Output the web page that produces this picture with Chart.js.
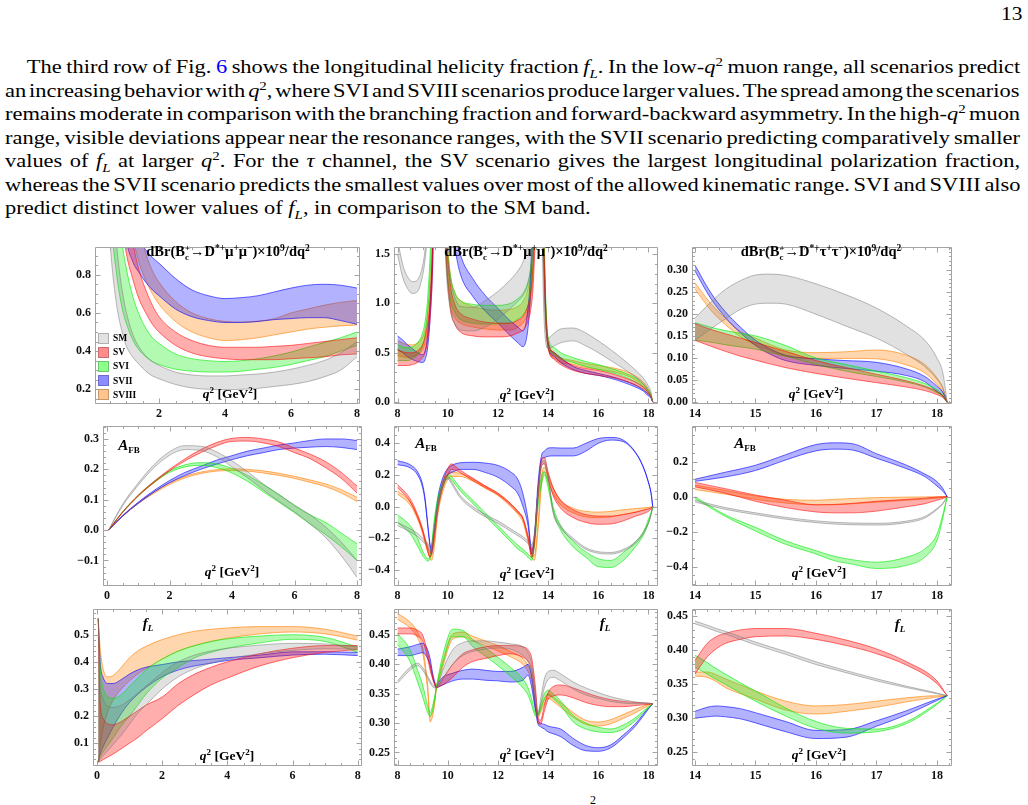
<!DOCTYPE html>
<html><head><meta charset="utf-8">
<script src="https://cdn.jsdelivr.net/npm/chart.js@4.4.1/dist/chart.umd.min.js"></script>
<style>
html,body{margin:0;padding:0;background:#fff;}
body{width:1028px;height:805px;position:relative;overflow:hidden;font-family:"Liberation Serif","DejaVu Serif",serif;color:#000;}
#pg{position:absolute;left:1001px;top:3px;font-size:19.5px;transform:scaleX(1.1);transform-origin:0 0;}
#txt{position:absolute;left:5px;top:55px;width:883px;font-size:19.5px;line-height:23.5px;transform:scaleX(1.15);transform-origin:0 0;}
#txt div{white-space:nowrap;}
#txt div.first{padding-left:19px;}
#txt sup,#txt sub{font-size:13px;line-height:0;}
canvas{position:absolute;}
.lab{position:absolute;font-weight:bold;white-space:nowrap;transform:translate(-50%,-50%);font-size:13.5px;line-height:1;}
.lab sup,.lab sub{font-size:9px;line-height:0;}
.ttl{font-size:14.5px;}
.ttl sup{font-size:9.5px;}
.ss{display:inline-block;vertical-align:middle;line-height:8.5px;font-size:9px;text-align:left;}
.big{font-size:15px;font-style:italic;}
#legend{position:absolute;left:98px;top:331px;font-size:9.5px;font-weight:bold;}
#legend div{height:14.2px;display:flex;align-items:center;}
#legend span.sw{display:inline-block;width:11px;height:11px;margin-right:4px;border:1px solid rgba(0,0,0,0.22);box-sizing:border-box;}
</style></head>
<body>
<div id="pg">13</div>
<div id="txt">
<div class="first"><span>The third row of Fig. <span style="color:#0000ff">6</span> shows the longitudinal helicity fraction <i>f<sub>L</sub></i>. In the low-<i>q</i><sup>2</sup> muon range, all scenarios predict</span></div>
<div><span>an increasing behavior with <i>q</i><sup>2</sup>, where SVI and SVIII scenarios produce larger values. The spread among the scenarios</span></div>
<div><span>remains moderate in comparison with the branching fraction and forward-backward asymmetry. In the high-<i>q</i><sup>2</sup> muon</span></div>
<div><span>range, visible deviations appear near the resonance ranges, with the SVII scenario predicting comparatively smaller</span></div>
<div><span>values of <i>f<sub>L</sub></i> at larger <i>q</i><sup>2</sup>. For the <i>τ</i> channel, the SV scenario gives the largest longitudinal polarization fraction,</span></div>
<div><span>whereas the SVII scenario predicts the smallest values over most of the allowed kinematic range. SVI and SVIII also</span></div>
<div class="last"><span>predict distinct lower values of <i>f<sub>L</sub></i>, in comparison to the SM band.</span></div>
</div>
<div style="position:absolute;left:590px;top:793px;font-size:12px;">2</div>

<script>
// justify each paragraph line to the reference's line width
(function(){
  const S = 1.15;
  document.querySelectorAll('#txt > div').forEach(d => {
    if (d.classList.contains('last')) return;
    const sp = d.firstElementChild;
    sp.style.display = 'inline-block';
    const target = (d.classList.contains('first') ? 993 : 1015) / S;
    const w = sp.offsetWidth;
    const n = sp.textContent.split(' ').length - 1;
    if (n > 0) sp.style.wordSpacing = ((target - w) / n) + 'px';
  });
})();
</script>

<script>
// ---------------- DATA ----------------
const SERIES = ['SM','SV','SVI','SVII','SVIII'];

// Panel 1: dBr mu, low q^2
const Q1 = [0.5,0.6,0.7,0.8,0.9,1.0,1.2,1.4,1.6,1.8,2,2.5,3,3.5,4,4.5,5,5.5,6,6.5,7,7.5,8];
const P1_SM_HI = [1.5,1.2,0.98,0.82,0.70,0.61,0.49,0.42,0.375,0.345,0.325,0.29,0.275,0.27,0.27,0.275,0.28,0.29,0.305,0.325,0.35,0.39,0.45];
const P1_SM_LO = [1.0,0.8,0.66,0.56,0.49,0.43,0.37,0.33,0.295,0.27,0.255,0.225,0.207,0.2,0.198,0.2,0.205,0.215,0.225,0.24,0.265,0.3,0.37];
const P1_SV_HI = [2.4,2.0,1.7,1.5,1.3,1.15,0.97,0.82,0.72,0.64,0.58,0.5,0.455,0.43,0.42,0.42,0.42,0.425,0.43,0.44,0.45,0.46,0.47];
const P1_SV_LO = [1.9,1.6,1.4,1.2,1.05,0.92,0.78,0.67,0.6,0.54,0.5,0.43,0.39,0.37,0.36,0.355,0.355,0.355,0.36,0.365,0.37,0.38,0.385];
const P1_SVI_HI = [1.8,1.5,1.25,1.07,0.94,0.84,0.69,0.59,0.52,0.47,0.44,0.385,0.36,0.35,0.345,0.35,0.36,0.375,0.395,0.42,0.445,0.47,0.5];
const P1_SVI_LO = [1.25,0.98,0.82,0.7,0.61,0.55,0.46,0.405,0.37,0.345,0.33,0.305,0.295,0.29,0.29,0.295,0.305,0.315,0.33,0.35,0.37,0.4,0.43];
const P1_SVII_HI = [3.0,2.6,2.2,1.9,1.6,1.35,1.1,0.98,0.93,0.89,0.86,0.78,0.72,0.69,0.675,0.68,0.69,0.71,0.73,0.745,0.75,0.745,0.73];
const P1_SVII_LO = [2.2,1.9,1.6,1.4,1.2,1.0,0.87,0.81,0.76,0.72,0.69,0.62,0.58,0.56,0.55,0.55,0.555,0.565,0.57,0.575,0.575,0.56,0.54];
const P1_SVIII_HI = [3.0,2.6,2.2,1.9,1.65,1.45,1.2,1.03,0.91,0.82,0.76,0.66,0.6,0.57,0.555,0.552,0.557,0.57,0.6,0.62,0.64,0.655,0.665];
const P1_SVIII_LO = [2.4,2.0,1.7,1.5,1.35,1.2,1.0,0.86,0.77,0.7,0.645,0.555,0.5,0.47,0.455,0.46,0.47,0.485,0.5,0.515,0.525,0.532,0.537];

// Panel 2: dBr mu, high q^2 (three segments between resonances)
const Q2A = [8.0,8.2,8.4,8.6,8.8,9.0,9.1,9.2,9.3,9.4,9.45];
const P2A_SM_HI = [1.65,1.40,1.27,1.22,1.24,1.38,1.55,1.85,2.3,3,3.5];
const P2A_SM_LO = [1.50,1.27,1.15,1.10,1.12,1.28,1.45,1.7,2.1,2.8,3.3];
const P2A_SV_HI = [0.53,0.51,0.5,0.5,0.52,0.58,0.66,0.8,1.05,1.6,2.2];
const P2A_SV_LO = [0.37,0.37,0.37,0.38,0.4,0.45,0.5,0.62,0.85,1.35,1.9];
const P2A_SVI_HI = [0.58,0.56,0.55,0.56,0.6,0.7,0.82,1.05,1.5,2.2,3];
const P2A_SVI_LO = [0.42,0.42,0.42,0.44,0.48,0.57,0.68,0.9,1.3,2.0,2.8];
const P2A_SVII_HI = [0.67,0.63,0.58,0.54,0.5,0.48,0.52,0.68,1.0,1.6,2.2];
const P2A_SVII_LO = [0.53,0.5,0.46,0.43,0.41,0.40,0.43,0.55,0.85,1.4,2.0];
const P2A_SVIII_HI = [0.62,0.6,0.58,0.58,0.6,0.66,0.74,0.9,1.2,1.8,2.5];
const P2A_SVIII_LO = [0.47,0.46,0.45,0.46,0.48,0.53,0.6,0.72,1.0,1.55,2.2];
const Q2B = [9.75,9.85,9.95,10.1,10.3,10.5,11.0,11.5,12.0,12.5,12.8,13.0,13.2,13.3,13.4,13.5];
const P2B_SM_HI = [3,2.2,1.6,1.25,1.05,0.97,0.96,1.03,1.12,1.24,1.33,1.42,1.6,1.8,2.2,3];
const P2B_SM_LO = [3,1.9,1.3,0.95,0.78,0.73,0.72,0.76,0.84,0.95,1.02,1.08,1.2,1.35,1.6,2.2];
const P2B_SV_HI = [3,2.4,1.7,1.2,0.98,0.9,0.84,0.81,0.8,0.8,0.83,0.87,0.98,1.1,1.4,2.0];
const P2B_SV_LO = [3,2.0,1.4,0.95,0.78,0.71,0.67,0.66,0.66,0.67,0.7,0.73,0.82,0.92,1.15,1.7];
const P2B_SVI_HI = [3,2.3,1.7,1.3,1.1,1.03,0.99,0.98,0.98,1.0,1.05,1.1,1.22,1.35,1.7,2.4];
const P2B_SVI_LO = [3,2.0,1.4,1.05,0.9,0.84,0.8,0.79,0.79,0.8,0.84,0.88,0.98,1.1,1.4,2.0];
const P2B_SVII_HI = [4,3.5,3,2.4,1.75,1.5,1.25,1.08,0.95,0.82,0.76,0.72,0.95,1.3,2.0,3];
const P2B_SVII_LO = [4,3.2,2.6,2.0,1.55,1.3,1.07,0.92,0.8,0.67,0.6,0.56,0.75,1.1,1.7,2.6];
const P2B_SVIII_HI = [3,2.4,1.8,1.3,1.1,1.03,0.97,0.94,0.93,0.94,0.97,1.02,1.15,1.3,1.6,2.3];
const P2B_SVIII_LO = [3,2.1,1.5,1.0,0.85,0.8,0.76,0.74,0.73,0.73,0.76,0.8,0.9,1.02,1.3,1.9];
const Q2C = [13.7,13.8,13.9,14.0,14.25,14.5,15.0,15.5,16.0,16.5,17.0,17.5,17.8,18.0,18.1,18.17];
const P2C_SM_HI = [3,1.5,0.8,0.65,0.7,0.74,0.75,0.7,0.62,0.53,0.43,0.32,0.24,0.16,0.1,0.0];
const P2C_SM_LO = [3,1.2,0.62,0.54,0.57,0.6,0.62,0.57,0.5,0.42,0.34,0.25,0.18,0.11,0.06,0.0];
const P2C_SV_HI = [3,2.0,1.0,0.62,0.5,0.44,0.37,0.34,0.32,0.29,0.25,0.2,0.15,0.1,0.06,0.0];
const P2C_SV_LO = [3,1.7,0.85,0.55,0.43,0.38,0.32,0.29,0.27,0.25,0.22,0.17,0.13,0.08,0.05,0.0];
const P2C_SVI_HI = [3,2.2,1.1,0.66,0.55,0.5,0.45,0.41,0.38,0.34,0.3,0.24,0.18,0.12,0.07,0.0];
const P2C_SVI_LO = [3,1.9,0.95,0.58,0.48,0.44,0.4,0.36,0.33,0.3,0.26,0.2,0.15,0.09,0.05,0.0];
const P2C_SVII_HI = [3,2.0,1.0,0.6,0.5,0.45,0.36,0.32,0.29,0.26,0.22,0.17,0.12,0.08,0.05,0.0];
const P2C_SVII_LO = [3,1.8,0.9,0.56,0.46,0.4,0.33,0.29,0.27,0.24,0.2,0.15,0.11,0.06,0.04,0.0];
const P2C_SVIII_HI = [3,2.1,1.05,0.62,0.5,0.45,0.42,0.39,0.37,0.35,0.32,0.26,0.2,0.13,0.08,0.0];
const P2C_SVIII_LO = [3,1.8,0.9,0.55,0.44,0.4,0.38,0.35,0.33,0.31,0.28,0.22,0.16,0.1,0.06,0.0];

// Panel 3: dBr tau
const Q3 = [14.0,14.25,14.5,14.75,15.0,15.25,15.5,16.0,16.5,17.0,17.5,17.8,18.0,18.1,18.17];
const P3_SM_HI = [0.19,0.225,0.255,0.275,0.288,0.29,0.287,0.268,0.243,0.213,0.172,0.14,0.1,0.065,0.0];
const P3_SM_LO = [0.14,0.165,0.188,0.21,0.222,0.224,0.222,0.199,0.172,0.145,0.108,0.08,0.052,0.03,0.0];
const P3_SV_HI = [0.178,0.165,0.155,0.145,0.135,0.125,0.115,0.094,0.078,0.063,0.048,0.036,0.024,0.014,0.0];
const P3_SV_LO = [0.14,0.127,0.115,0.104,0.095,0.086,0.078,0.065,0.054,0.044,0.034,0.026,0.017,0.01,0.0];
const P3_SVI_HI = [0.18,0.17,0.162,0.156,0.15,0.14,0.128,0.1,0.085,0.07,0.055,0.042,0.028,0.016,0.0];
const P3_SVI_LO = [0.14,0.136,0.13,0.125,0.12,0.112,0.104,0.085,0.07,0.058,0.045,0.034,0.021,0.012,0.0];
const P3_SVII_HI = [0.31,0.25,0.205,0.17,0.14,0.12,0.106,0.098,0.094,0.09,0.075,0.058,0.036,0.022,0.0];
const P3_SVII_LO = [0.297,0.237,0.192,0.157,0.128,0.108,0.094,0.083,0.076,0.07,0.06,0.046,0.024,0.014,0.0];
const P3_SVIII_HI = [0.27,0.225,0.19,0.16,0.145,0.13,0.118,0.112,0.114,0.118,0.106,0.085,0.055,0.032,0.0];
const P3_SVIII_LO = [0.256,0.21,0.176,0.148,0.13,0.116,0.104,0.099,0.099,0.098,0.084,0.066,0.04,0.022,0.0];

// Panel 4: A_FB mu, low q^2
const Q4 = [0.05,0.5,1,1.5,2,2.5,3,3.5,4,4.5,5,5.5,6,6.5,7,7.5,8];
const P4_SM_HI = [0,0.085,0.155,0.215,0.258,0.278,0.276,0.258,0.228,0.192,0.152,0.116,0.083,0.05,0.01,-0.04,-0.1];
const P4_SM_LO = [0,0.08,0.148,0.205,0.246,0.265,0.262,0.242,0.208,0.172,0.132,0.095,0.06,0.02,-0.025,-0.085,-0.155];
const P4_SV_HI = [0,0.06,0.115,0.16,0.2,0.235,0.265,0.288,0.302,0.305,0.3,0.29,0.27,0.25,0.225,0.19,0.145];
const P4_SV_LO = [0,0.058,0.112,0.156,0.195,0.228,0.255,0.277,0.292,0.293,0.287,0.275,0.255,0.235,0.205,0.17,0.122];
const P4_SVI_HI = [0,0.06,0.115,0.16,0.195,0.215,0.222,0.218,0.203,0.18,0.15,0.118,0.08,0.05,0.025,-0.01,-0.045];
const P4_SVI_LO = [0,0.058,0.112,0.156,0.19,0.208,0.213,0.206,0.188,0.16,0.126,0.092,0.057,0.02,-0.015,-0.055,-0.1];
const P4_SVII_HI = [0,0.048,0.092,0.13,0.163,0.19,0.21,0.23,0.245,0.26,0.27,0.28,0.287,0.295,0.3,0.3,0.295];
const P4_SVII_LO = [0,0.046,0.088,0.125,0.156,0.18,0.2,0.217,0.232,0.245,0.255,0.265,0.27,0.273,0.275,0.272,0.265];
const P4_SVIII_HI = [0,0.047,0.09,0.125,0.155,0.177,0.191,0.199,0.202,0.2,0.195,0.187,0.177,0.165,0.152,0.133,0.108];
const P4_SVIII_LO = [0,0.045,0.087,0.121,0.15,0.172,0.186,0.194,0.196,0.194,0.188,0.18,0.17,0.157,0.143,0.122,0.094];

// Panel 5: A_FB mu, high q^2
const Q5 = [8.0,8.5,8.8,9.0,9.1,9.2,9.3,9.35,9.45,9.6,9.8,10.0,10.15,10.3,10.5,11.0,11.5,12.0,12.5,12.8,13.0,13.2,13.35,13.45,13.6,13.75,13.85,14.0,14.2,14.5,15.0,15.5,16.0,16.5,17.0,17.5,17.8,18.0,18.1,18.17];
const P5_SM_HI = [-0.1,-0.14,-0.17,-0.2,-0.215,-0.23,-0.26,-0.25,-0.15,0.0,0.14,0.19,0.16,0.12,0.07,0.0,-0.05,-0.09,-0.14,-0.17,-0.19,-0.22,-0.24,-0.17,0.1,0.28,0.29,0.2,-0.02,-0.12,-0.2,-0.26,-0.285,-0.29,-0.27,-0.22,-0.16,-0.1,-0.05,0];
const P5_SM_LO = [-0.12,-0.16,-0.19,-0.22,-0.235,-0.25,-0.28,-0.27,-0.17,-0.02,0.12,0.175,0.145,0.105,0.055,-0.015,-0.065,-0.105,-0.155,-0.185,-0.205,-0.235,-0.255,-0.19,0.08,0.26,0.27,0.18,-0.04,-0.135,-0.212,-0.27,-0.295,-0.3,-0.28,-0.23,-0.17,-0.108,-0.055,0];
const P5_SV_HI = [0.14,0.05,-0.05,-0.14,-0.2,-0.25,-0.29,-0.27,-0.18,0.0,0.15,0.24,0.27,0.255,0.23,0.18,0.13,0.085,0.02,-0.03,-0.07,-0.18,-0.28,-0.2,0.1,0.3,0.31,0.22,0.12,0.04,-0.02,-0.05,-0.06,-0.06,-0.05,-0.035,-0.022,-0.015,-0.008,0];
const P5_SV_LO = [0.12,0.03,-0.07,-0.16,-0.22,-0.28,-0.32,-0.3,-0.22,-0.03,0.12,0.2,0.235,0.23,0.215,0.165,0.12,0.075,0.01,-0.04,-0.08,-0.2,-0.32,-0.25,0.05,0.26,0.27,0.18,0.07,-0.01,-0.07,-0.1,-0.112,-0.11,-0.09,-0.06,-0.045,-0.03,-0.016,0];
const P5_SVI_HI = [-0.05,-0.12,-0.2,-0.28,-0.31,-0.33,-0.31,-0.26,-0.1,0.05,0.15,0.2,0.19,0.16,0.12,0.04,-0.04,-0.12,-0.2,-0.245,-0.27,-0.3,-0.32,-0.22,0.05,0.2,0.22,0.15,0.0,-0.12,-0.22,-0.285,-0.33,-0.34,-0.29,-0.22,-0.16,-0.08,-0.04,0];
const P5_SVI_LO = [-0.1,-0.17,-0.25,-0.31,-0.33,-0.345,-0.33,-0.29,-0.13,0.02,0.12,0.18,0.17,0.14,0.1,0.02,-0.06,-0.14,-0.22,-0.27,-0.29,-0.32,-0.34,-0.26,0.0,0.15,0.2,0.12,-0.03,-0.15,-0.255,-0.32,-0.38,-0.385,-0.34,-0.25,-0.18,-0.1,-0.05,0];
const P5_SVII_HI = [0.29,0.265,0.22,0.14,0.05,-0.1,-0.24,-0.27,-0.15,0.05,0.18,0.24,0.26,0.27,0.277,0.28,0.275,0.26,0.22,0.17,0.08,-0.08,-0.27,-0.2,0.15,0.33,0.35,0.37,0.372,0.37,0.37,0.4,0.43,0.437,0.42,0.34,0.25,0.155,0.09,0.0];
const P5_SVII_LO = [0.265,0.245,0.2,0.12,0.03,-0.12,-0.26,-0.3,-0.18,0.02,0.15,0.2,0.215,0.225,0.235,0.235,0.215,0.185,0.13,0.08,0.0,-0.12,-0.3,-0.22,0.1,0.3,0.31,0.318,0.32,0.32,0.32,0.35,0.4,0.42,0.41,0.335,0.245,0.15,0.085,0.0];
const P5_SVIII_HI = [0.1,0.03,-0.06,-0.15,-0.21,-0.27,-0.31,-0.31,-0.24,-0.03,0.12,0.2,0.22,0.215,0.21,0.175,0.13,0.085,0.02,-0.03,-0.08,-0.2,-0.3,-0.31,-0.1,0.2,0.25,0.2,0.12,0.04,-0.01,-0.03,-0.035,-0.03,-0.02,-0.012,-0.008,-0.005,-0.003,0];
const P5_SVIII_LO = [0.08,0.01,-0.08,-0.17,-0.23,-0.29,-0.33,-0.34,-0.28,-0.06,0.09,0.17,0.19,0.19,0.19,0.16,0.115,0.07,0.0,-0.05,-0.1,-0.22,-0.32,-0.34,-0.15,0.15,0.22,0.16,0.08,0.01,-0.04,-0.065,-0.07,-0.065,-0.05,-0.035,-0.022,-0.012,-0.006,0];

// Panel 6: A_FB tau
const Q6 = [14.0,14.5,15.0,15.5,16.0,16.3,16.6,17.0,17.5,17.8,18.0,18.1,18.17];
const P6_SM_HI = [-0.02,-0.062,-0.092,-0.118,-0.138,-0.146,-0.15,-0.152,-0.139,-0.113,-0.067,-0.036,0];
const P6_SM_LO = [-0.03,-0.072,-0.102,-0.128,-0.148,-0.156,-0.16,-0.162,-0.148,-0.122,-0.074,-0.04,0];
const P6_SV_HI = [0.082,0.046,0.01,-0.02,-0.046,-0.044,-0.038,-0.026,-0.015,-0.008,-0.002,0,0];
const P6_SV_LO = [0.057,0.02,-0.026,-0.062,-0.087,-0.092,-0.092,-0.082,-0.057,-0.04,-0.02,-0.01,0];
const P6_SVI_HI = [0.0,-0.103,-0.175,-0.252,-0.308,-0.34,-0.36,-0.374,-0.345,-0.298,-0.215,-0.1,0];
const P6_SVI_LO = [-0.01,-0.112,-0.196,-0.272,-0.327,-0.365,-0.385,-0.41,-0.392,-0.345,-0.252,-0.12,0];
const P6_SVII_HI = [0.1,0.14,0.18,0.24,0.298,0.308,0.303,0.246,0.18,0.13,0.087,0.046,0];
const P6_SVII_LO = [0.088,0.113,0.15,0.21,0.262,0.272,0.267,0.22,0.16,0.115,0.062,0.031,0];
const P6_SVIII_HI = [0.067,0.036,0.005,-0.015,-0.02,-0.015,-0.01,-0.005,-0.002,-0.001,0,0,0];
const P6_SVIII_LO = [0.041,0.015,-0.015,-0.036,-0.046,-0.046,-0.04,-0.031,-0.02,-0.013,-0.008,-0.004,0];

// Panel 7: f_L mu, low q^2
const Q7 = [0.04,0.1,0.2,0.35,0.5,0.75,1,1.25,1.5,2,2.5,3,3.5,4,5,6,7,8];
const P7_SM_HI = [0.56,0.32,0.26,0.235,0.232,0.24,0.26,0.285,0.31,0.36,0.4,0.425,0.44,0.45,0.462,0.468,0.466,0.455];
const P7_SM_LO = [0.03,0.04,0.055,0.075,0.095,0.13,0.17,0.21,0.24,0.3,0.345,0.375,0.395,0.41,0.43,0.442,0.448,0.447];
const P7_SV_HI = [0.56,0.25,0.19,0.17,0.168,0.18,0.2,0.22,0.24,0.27,0.32,0.355,0.38,0.4,0.43,0.45,0.46,0.46];
const P7_SV_LO = [0.03,0.033,0.04,0.05,0.06,0.08,0.1,0.12,0.145,0.19,0.24,0.28,0.315,0.34,0.385,0.415,0.435,0.445];
const P7_SVI_HI = [0.56,0.38,0.3,0.27,0.265,0.28,0.31,0.34,0.37,0.41,0.44,0.46,0.475,0.485,0.495,0.5,0.49,0.455];
const P7_SVI_LO = [0.03,0.05,0.07,0.095,0.12,0.165,0.2,0.24,0.28,0.34,0.38,0.415,0.435,0.45,0.47,0.483,0.475,0.435];
const P7_SVII_HI = [0.56,0.4,0.34,0.32,0.32,0.335,0.355,0.37,0.38,0.39,0.4,0.405,0.41,0.415,0.425,0.437,0.437,0.435];
const P7_SVII_LO = [0.03,0.06,0.09,0.125,0.16,0.21,0.25,0.28,0.305,0.345,0.37,0.385,0.395,0.405,0.415,0.425,0.428,0.423];
const P7_SVIII_HI = [0.56,0.45,0.37,0.345,0.35,0.38,0.415,0.44,0.457,0.482,0.5,0.513,0.52,0.525,0.53,0.53,0.52,0.495];
const P7_SVIII_LO = [0.03,0.09,0.16,0.22,0.26,0.3,0.33,0.355,0.375,0.41,0.44,0.46,0.475,0.487,0.503,0.51,0.503,0.48];

// Panel 8: f_L mu, high q^2
const Q8 = [8.0,8.5,8.8,9.0,9.2,9.3,9.4,9.5,9.55,9.65,9.8,10.2,10.6,11.0,11.5,12.0,12.5,13.0,13.2,13.35,13.5,13.6,13.7,13.85,14.0,14.2,14.5,15.0,15.5,16.0,16.5,17.0,17.5,18.0,18.17];
const P8_SM_HI = [0.372,0.395,0.402,0.395,0.38,0.372,0.365,0.362,0.362,0.37,0.39,0.425,0.437,0.44,0.44,0.438,0.435,0.43,0.42,0.4,0.35,0.318,0.34,0.375,0.388,0.39,0.384,0.37,0.36,0.352,0.345,0.34,0.336,0.334,0.333];
const P8_SM_LO = [0.368,0.39,0.398,0.39,0.376,0.368,0.362,0.36,0.36,0.363,0.375,0.4,0.415,0.422,0.426,0.428,0.426,0.415,0.405,0.385,0.335,0.312,0.33,0.36,0.374,0.378,0.372,0.358,0.348,0.342,0.337,0.334,0.333,0.333,0.333];
const P8_SV_HI = [0.462,0.462,0.458,0.45,0.42,0.4,0.38,0.365,0.362,0.366,0.375,0.4,0.418,0.425,0.43,0.432,0.432,0.43,0.425,0.41,0.36,0.31,0.305,0.33,0.352,0.362,0.365,0.36,0.352,0.345,0.34,0.337,0.335,0.334,0.333];
const P8_SV_LO = [0.452,0.452,0.448,0.44,0.41,0.39,0.375,0.363,0.36,0.362,0.365,0.378,0.395,0.405,0.41,0.415,0.418,0.412,0.405,0.39,0.345,0.3,0.298,0.32,0.34,0.346,0.348,0.343,0.335,0.33,0.328,0.328,0.33,0.332,0.333];
const P8_SVI_HI = [0.453,0.425,0.39,0.365,0.33,0.318,0.33,0.35,0.362,0.385,0.415,0.46,0.458,0.442,0.428,0.412,0.395,0.375,0.36,0.34,0.318,0.318,0.33,0.35,0.356,0.35,0.338,0.313,0.3,0.293,0.29,0.297,0.31,0.328,0.333];
const P8_SVI_LO = [0.434,0.405,0.37,0.345,0.318,0.312,0.322,0.345,0.36,0.375,0.4,0.447,0.447,0.43,0.414,0.398,0.38,0.36,0.348,0.33,0.312,0.313,0.322,0.34,0.348,0.342,0.33,0.302,0.29,0.285,0.284,0.29,0.305,0.326,0.333];
const P8_SVII_HI = [0.426,0.43,0.434,0.436,0.425,0.41,0.385,0.368,0.362,0.37,0.378,0.385,0.39,0.392,0.39,0.388,0.388,0.395,0.4,0.38,0.33,0.305,0.3,0.298,0.295,0.293,0.29,0.274,0.262,0.258,0.263,0.28,0.3,0.326,0.333];
const P8_SVII_LO = [0.415,0.415,0.418,0.42,0.41,0.398,0.378,0.364,0.36,0.362,0.365,0.372,0.375,0.375,0.373,0.372,0.37,0.373,0.382,0.36,0.32,0.298,0.294,0.29,0.285,0.282,0.277,0.262,0.253,0.252,0.258,0.275,0.296,0.324,0.333];
const P8_SVIII_HI = [0.487,0.472,0.455,0.43,0.365,0.31,0.32,0.345,0.362,0.38,0.405,0.452,0.455,0.448,0.44,0.432,0.422,0.41,0.398,0.38,0.335,0.315,0.325,0.342,0.35,0.345,0.335,0.318,0.305,0.302,0.306,0.315,0.324,0.332,0.333];
const P8_SVIII_LO = [0.477,0.462,0.445,0.42,0.355,0.302,0.312,0.338,0.36,0.372,0.395,0.443,0.447,0.44,0.432,0.423,0.413,0.4,0.388,0.37,0.325,0.31,0.318,0.333,0.342,0.337,0.327,0.31,0.298,0.295,0.299,0.308,0.318,0.33,0.333];

// Panel 9: f_L tau
const Q9 = [14.0,14.2,14.35,14.5,14.75,15.0,15.5,16.0,16.5,17.0,17.5,18.0,18.17];
const P9_SM_HI = [0.443,0.437,0.432,0.428,0.42,0.412,0.398,0.383,0.37,0.358,0.347,0.337,0.333];
const P9_SM_LO = [0.439,0.433,0.428,0.424,0.416,0.408,0.394,0.379,0.367,0.355,0.345,0.336,0.333];
const P9_SV_HI = [0.385,0.41,0.42,0.425,0.43,0.432,0.432,0.425,0.415,0.402,0.383,0.355,0.333];
const P9_SV_LO = [0.365,0.39,0.402,0.41,0.416,0.42,0.421,0.416,0.407,0.395,0.378,0.351,0.333];
const P9_SVI_HI = [0.393,0.382,0.373,0.365,0.352,0.34,0.315,0.295,0.285,0.284,0.295,0.322,0.333];
const P9_SVI_LO = [0.375,0.365,0.357,0.35,0.337,0.325,0.303,0.285,0.278,0.28,0.292,0.32,0.333];
const P9_SVII_HI = [0.31,0.316,0.318,0.317,0.314,0.308,0.295,0.282,0.283,0.296,0.311,0.328,0.333];
const P9_SVII_LO = [0.3,0.302,0.303,0.302,0.299,0.293,0.28,0.27,0.272,0.288,0.305,0.326,0.333];
const P9_SVIII_HI = [0.368,0.368,0.364,0.358,0.349,0.34,0.325,0.318,0.32,0.325,0.33,0.333,0.333];
const P9_SVIII_LO = [0.362,0.36,0.354,0.345,0.336,0.328,0.312,0.306,0.31,0.316,0.324,0.331,0.333];

// Tick values / labels
const XT_LOW1 = [2,4,6,8], XL_LOW1 = ['2','4','6','8'];
const XT_LOW = [0,2,4,6,8], XL_LOW = ['0','2','4','6','8'];
const XT_MID = [8,10,12,14,16,18], XL_MID = ['8','10','12','14','16','18'];
const XT_TAU = [14,15,16,17,18], XL_TAU = ['14','15','16','17','18'];
const YT1 = [0.2,0.4,0.6,0.8], YL1 = ['0.2','0.4','0.6','0.8'];
const YT2 = [0,0.5,1,1.5], YL2 = ['0.0','0.5','1.0','1.5'];
const YT3 = [0,0.05,0.1,0.15,0.2,0.25,0.3], YL3 = ['0.00','0.05','0.10','0.15','0.20','0.25','0.30'];
const YT4 = [-0.1,0,0.1,0.2,0.3], YL4 = ['\u22120.1','0.0','0.1','0.2','0.3'];
const YT5 = [-0.4,-0.2,0,0.2,0.4], YL5 = ['\u22120.4','\u22120.2','0.0','0.2','0.4'];
const YT6 = [-0.4,-0.2,0,0.2], YL6 = ['\u22120.4','\u22120.2','0.0','0.2'];
const YT7 = [0.1,0.2,0.3,0.4,0.5], YL7 = ['0.1','0.2','0.3','0.4','0.5'];
const YT8 = [0.25,0.3,0.35,0.4,0.45], YL8 = ['0.25','0.30','0.35','0.40','0.45'];

// ---------------- STYLE ----------------
const RGB = {SM:'120,120,120', SV:'255,0,0', SVI:'0,235,0', SVII:'0,0,255', SVIII:'255,128,0'};
const FILL_A = {SM:0.22, SV:0.32, SVI:0.3, SVII:0.3, SVIII:0.32};
const EDGE_A = {SM:0.5, SV:0.55, SVI:0.6, SVII:0.6, SVIII:0.6};
const FONT = {family:'"Liberation Serif","DejaVu Serif",serif', size:12, weight:'bold'};

function pts(q, v){ return q.map((x,i)=>({x:x, y:v[i]})); }
function band(key, q, lo, hi){
  const base = {label:key, borderWidth:1, pointRadius:0, pointHoverRadius:0,
    cubicInterpolationMode:'monotone', borderColor:'rgba('+RGB[key]+','+EDGE_A[key]+')'};
  return [
    Object.assign({}, base, {data:pts(q, lo), fill:false}),
    Object.assign({}, base, {data:pts(q, hi), fill:'-1', backgroundColor:'rgba('+RGB[key]+','+FILL_A[key]+')'})
  ];
}

function framePlugin(xm, ym){
  return {
    id:'frame',
    afterDraw(chart){
      const ctx = chart.ctx, a = chart.chartArea, x = chart.scales.x, y = chart.scales.y;
      const L = Math.round(a.left)+0.5, R = Math.round(a.right)-0.5, T = Math.round(a.top)+0.5, B = Math.round(a.bottom)-0.5;
      ctx.save();
      ctx.strokeStyle = '#a3a3a3'; ctx.lineWidth = 1;
      ctx.beginPath();
      ctx.rect(L, T, R-L, B-T);
      const majX = x.ticks.map(t=>t.value), majY = y.ticks.map(t=>t.value);
      const isMaj = (arr, v) => arr.some(m => Math.abs(m-v) < 1e-6);
      function tx(v, len){ const p = Math.round(x.getPixelForValue(v))+0.5; if (p<L||p>R) return; ctx.moveTo(p,B); ctx.lineTo(p,B-len); ctx.moveTo(p,T); ctx.lineTo(p,T+len); }
      function ty(v, len){ const p = Math.round(y.getPixelForValue(v))+0.5; if (p<T||p>B) return; ctx.moveTo(L,p); ctx.lineTo(L+len,p); ctx.moveTo(R,p); ctx.lineTo(R-len,p); }
      for (let v = Math.ceil(x.min/xm-1e-9)*xm; v <= x.max+1e-9; v += xm){ const vv = Math.round(v/xm)*xm; tx(vv, isMaj(majX,vv)?5:2.5); }
      for (let v = Math.ceil(y.min/ym-1e-9)*ym; v <= y.max+1e-9; v += ym){ const vv = Math.round(v/ym)*ym; ty(vv, isMaj(majY,vv)?5:2.5); }
      ctx.stroke();
      ctx.restore();
    }
  };
}

const PADL = 40, PADT = 8, PADR = 8, PADB = 22;
function makePanel(cfg){
  const c = document.createElement('canvas');
  const w = cfg.R - cfg.L + PADL + PADR, h = cfg.B - cfg.T + PADT + PADB;
  c.width = w; c.height = h;
  c.style.left = (cfg.L - PADL) + 'px'; c.style.top = (cfg.T - PADT) + 'px';
  c.style.width = w + 'px'; c.style.height = h + 'px';
  document.body.appendChild(c);
  let datasets = [];
  cfg.bands.forEach(b => { datasets = datasets.concat(band(b[0], b[1], b[2], b[3])); });
  new Chart(c, {
    type:'line',
    data:{datasets:datasets},
    options:{
      responsive:false, animation:false, devicePixelRatio:1,
      layout:{padding:{left:0, top:PADT, right:PADR, bottom:0}, autoPadding:false},
      plugins:{legend:{display:false}, tooltip:{enabled:false}},
      events:[],
      scales:{
        x:{type:'linear', min:cfg.xr[0], max:cfg.xr[1],
           afterBuildTicks: s => { s.ticks = cfg.xt.map(v => ({value:v})); },
           afterFit: s => { s.height = PADB; },
           grid:{display:false, drawTicks:false}, border:{display:false},
           ticks:{font:FONT, color:'#111', padding:3, maxRotation:0, autoSkip:false, callback:(v,i)=>cfg.xl[i]}},
        y:{type:'linear', min:cfg.yr[0], max:cfg.yr[1],
           afterBuildTicks: s => { s.ticks = cfg.yt.map(v => ({value:v})); },
           afterFit: s => { s.width = PADL; },
           grid:{display:false, drawTicks:false}, border:{display:false},
           ticks:{font:FONT, color:'#111', padding:4, autoSkip:false, callback:(v,i)=>cfg.yl[i]}}
      }
    },
    plugins:[framePlugin(cfg.xm, cfg.ym)]
  });
}
</script>
<script>
// Row 1
makePanel({L:95,R:360,T:244,B:404, xr:[0.06,8.09], yr:[0.123,0.944], xt:XT_LOW1, xl:XL_LOW1, yt:YT1, yl:YL1, xm:0.5, ym:0.05,
  bands:[['SM',Q1,P1_SM_LO,P1_SM_HI],['SV',Q1,P1_SV_LO,P1_SV_HI],['SVI',Q1,P1_SVI_LO,P1_SVI_HI],['SVII',Q1,P1_SVII_LO,P1_SVII_HI],['SVIII',Q1,P1_SVIII_LO,P1_SVIII_HI]]});
makePanel({L:394,R:658,T:244,B:404, xr:[7.86,18.38], yr:[-0.02,1.569], xt:XT_MID, xl:XL_MID, yt:YT2, yl:YL2, xm:0.5, ym:0.1,
  bands:[
    ['SM',Q2A,P2A_SM_LO,P2A_SM_HI],['SM',Q2B,P2B_SM_LO,P2B_SM_HI],['SM',Q2C,P2C_SM_LO,P2C_SM_HI],
    ['SV',Q2A,P2A_SV_LO,P2A_SV_HI],['SV',Q2B,P2B_SV_LO,P2B_SV_HI],['SV',Q2C,P2C_SV_LO,P2C_SV_HI],
    ['SVI',Q2A,P2A_SVI_LO,P2A_SVI_HI],['SVI',Q2B,P2B_SVI_LO,P2B_SVI_HI],['SVI',Q2C,P2C_SVI_LO,P2C_SVI_HI],
    ['SVII',Q2A,P2A_SVII_LO,P2A_SVII_HI],['SVII',Q2B,P2B_SVII_LO,P2B_SVII_HI],['SVII',Q2C,P2C_SVII_LO,P2C_SVII_HI],
    ['SVIII',Q2A,P2A_SVIII_LO,P2A_SVIII_HI],['SVIII',Q2B,P2B_SVIII_LO,P2B_SVIII_HI],['SVIII',Q2C,P2C_SVIII_LO,P2C_SVIII_HI]]});
makePanel({L:692,R:952,T:244,B:404, xr:[13.95,18.25], yr:[-0.0044,0.351], xt:XT_TAU, xl:XL_TAU, yt:YT3, yl:YL3, xm:0.2, ym:0.01,
  bands:[['SM',Q3,P3_SM_LO,P3_SM_HI],['SV',Q3,P3_SV_LO,P3_SV_HI],['SVI',Q3,P3_SVI_LO,P3_SVI_HI],['SVII',Q3,P3_SVII_LO,P3_SVII_HI],['SVIII',Q3,P3_SVIII_LO,P3_SVIII_HI]]});
// Row 2
makePanel({L:103,R:362,T:423,B:586, xr:[-0.128,8.16], yr:[-0.184,0.342], xt:XT_LOW, xl:XL_LOW, yt:YT4, yl:YL4, xm:0.5, ym:0.02,
  bands:[['SM',Q4,P4_SM_LO,P4_SM_HI],['SV',Q4,P4_SV_LO,P4_SV_HI],['SVI',Q4,P4_SVI_LO,P4_SVI_HI],['SVII',Q4,P4_SVII_LO,P4_SVII_HI],['SVIII',Q4,P4_SVIII_LO,P4_SVIII_HI]]});
makePanel({L:394,R:658,T:423,B:586, xr:[7.86,18.38], yr:[-0.502,0.508], xt:XT_MID, xl:XL_MID, yt:YT5, yl:YL5, xm:0.5, ym:0.05,
  bands:[['SM',Q5,P5_SM_LO,P5_SM_HI],['SV',Q5,P5_SV_LO,P5_SV_HI],['SVI',Q5,P5_SVI_LO,P5_SVI_HI],['SVII',Q5,P5_SVII_LO,P5_SVII_HI],['SVIII',Q5,P5_SVIII_LO,P5_SVIII_HI]]});
makePanel({L:692,R:952,T:423,B:586, xr:[13.95,18.25], yr:[-0.51,0.403], xt:XT_TAU, xl:XL_TAU, yt:YT6, yl:YL6, xm:0.2, ym:0.05,
  bands:[['SM',Q6,P6_SM_LO,P6_SM_HI],['SV',Q6,P6_SV_LO,P6_SV_HI],['SVI',Q6,P6_SVI_LO,P6_SVI_HI],['SVII',Q6,P6_SVII_LO,P6_SVII_HI],['SVIII',Q6,P6_SVIII_LO,P6_SVIII_HI]]});
// Row 3
makePanel({L:93,R:362,T:606,B:766, xr:[-0.12,8.13], yr:[0.016,0.594], xt:XT_LOW, xl:XL_LOW, yt:YT7, yl:YL7, xm:0.5, ym:0.02,
  bands:[['SM',Q7,P7_SM_LO,P7_SM_HI],['SV',Q7,P7_SV_LO,P7_SV_HI],['SVI',Q7,P7_SVI_LO,P7_SVI_HI],['SVII',Q7,P7_SVII_LO,P7_SVII_HI],['SVIII',Q7,P7_SVIII_LO,P7_SVIII_HI]]});
makePanel({L:394,R:658,T:606,B:766, xr:[7.86,18.38], yr:[0.227,0.494], xt:XT_MID, xl:XL_MID, yt:YT8, yl:YL8, xm:0.5, ym:0.01,
  bands:[['SM',Q8,P8_SM_LO,P8_SM_HI],['SV',Q8,P8_SV_LO,P8_SV_HI],['SVI',Q8,P8_SVI_LO,P8_SVI_HI],['SVII',Q8,P8_SVII_LO,P8_SVII_HI],['SVIII',Q8,P8_SVIII_LO,P8_SVIII_HI]]});
makePanel({L:692,R:952,T:606,B:766, xr:[13.95,18.25], yr:[0.2295,0.4605], xt:XT_TAU, xl:XL_TAU, yt:YT8, yl:YL8, xm:0.2, ym:0.01,
  bands:[['SM',Q9,P9_SM_LO,P9_SM_HI],['SV',Q9,P9_SV_LO,P9_SV_HI],['SVI',Q9,P9_SVI_LO,P9_SVI_HI],['SVII',Q9,P9_SVII_LO,P9_SVII_HI],['SVIII',Q9,P9_SVIII_LO,P9_SVIII_HI]]});
</script>

<!-- in-plot labels -->
<div class="lab ttl" style="left:228px;top:253px;">dBr(B<span class="ss">+<br>c</span>→D<sup>*+</sup>μ<sup>+</sup>μ<sup>−</sup>)×10<sup>9</sup>/dq<sup>2</sup></div>
<div class="lab ttl" style="left:526px;top:253px;">dBr(B<span class="ss">+<br>c</span>→D<sup>*+</sup>μ<sup>+</sup>μ<sup>−</sup>)×10<sup>9</sup>/dq<sup>2</sup></div>
<div class="lab ttl" style="left:821px;top:253px;">dBr(B<span class="ss">+<br>c</span>→D<sup>*+</sup>τ<sup>+</sup>τ<sup>−</sup>)×10<sup>9</sup>/dq<sup>2</sup></div>

<div class="lab" style="left:230px;top:394px;"><i>q</i><sup>2</sup> [GeV<sup>2</sup>]</div>
<div class="lab" style="left:527px;top:395px;"><i>q</i><sup>2</sup> [GeV<sup>2</sup>]</div>
<div class="lab" style="left:816px;top:394px;"><i>q</i><sup>2</sup> [GeV<sup>2</sup>]</div>
<div class="lab" style="left:232px;top:572px;"><i>q</i><sup>2</sup> [GeV<sup>2</sup>]</div>
<div class="lab" style="left:527px;top:574px;"><i>q</i><sup>2</sup> [GeV<sup>2</sup>]</div>
<div class="lab" style="left:819px;top:573px;"><i>q</i><sup>2</sup> [GeV<sup>2</sup>]</div>
<div class="lab" style="left:227px;top:756px;"><i>q</i><sup>2</sup> [GeV<sup>2</sup>]</div>
<div class="lab" style="left:527px;top:755px;"><i>q</i><sup>2</sup> [GeV<sup>2</sup>]</div>
<div class="lab" style="left:819px;top:755px;"><i>q</i><sup>2</sup> [GeV<sup>2</sup>]</div>

<div class="lab" style="left:129px;top:445px;"><span class="big">A</span><sub>FB</sub></div>
<div class="lab" style="left:426px;top:443px;"><span class="big">A</span><sub>FB</sub></div>
<div class="lab" style="left:745px;top:443px;"><span class="big">A</span><sub>FB</sub></div>

<div class="lab" style="left:148px;top:623px;"><span class="big">f</span><sub><i>L</i></sub></div>
<div class="lab" style="left:605px;top:623px;"><span class="big">f</span><sub><i>L</i></sub></div>
<div class="lab" style="left:900px;top:624px;"><span class="big">f</span><sub><i>L</i></sub></div>

<div id="legend">
<div><span class="sw" style="background:#e2e2e2"></span>SM</div>
<div><span class="sw" style="background:#ff8c8c"></span>SV</div>
<div><span class="sw" style="background:#8cff8c"></span>SVI</div>
<div><span class="sw" style="background:#8c8cff"></span>SVII</div>
<div><span class="sw" style="background:#ffc38c"></span>SVIII</div>
</div>
</body></html>
